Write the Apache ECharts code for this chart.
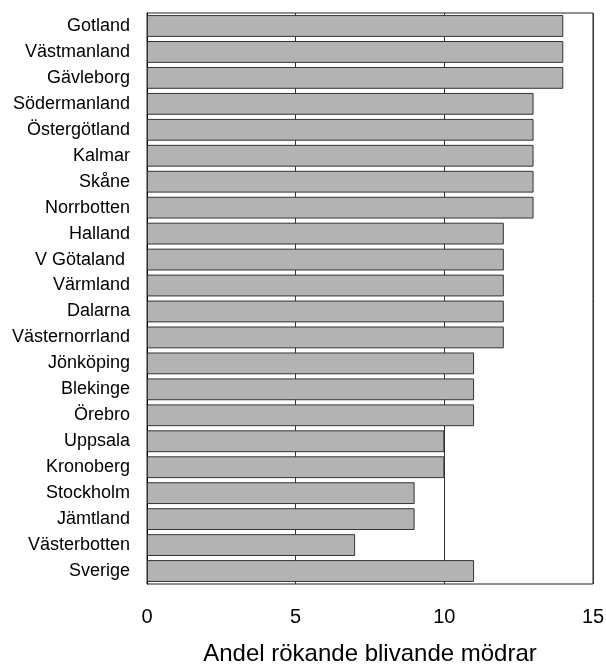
<!DOCTYPE html>
<html><head><meta charset="utf-8">
<script src="https://cdn.jsdelivr.net/npm/echarts@6/dist/echarts.min.js"></script>
<style>html,body{margin:0;padding:0;background:#fff}#c{width:606px;height:664px}</style>
</head><body><div id="c"></div>
<script>
const categories = ["Gotland","Västmanland","Gävleborg","Södermanland","Östergötland","Kalmar","Skåne","Norrbotten","Halland","V Götaland ","Värmland","Dalarna","Västernorrland","Jönköping","Blekinge","Örebro","Uppsala","Kronoberg","Stockholm","Jämtland","Västerbotten","Sverige"];
const values = [14,14,14,13,13,13,13,13,12,12,12,12,12,11,11,11,10,10,9,9,7,11];
const xTicks = [0,5,10,15];
const xTitle = "Andel rökande blivande mödrar";

const chart = echarts.init(document.getElementById('c'), null, {renderer:'canvas'});
chart.setOption({
  animation:false,
  backgroundColor:'#fff',
  grid:{left:147,right:13,top:13,bottom:80,show:true,borderColor:'#222',borderWidth:1,backgroundColor:'transparent',
    containLabel:false,outerBoundsMode:'none'},
  xAxis:{type:'value',min:0,max:15,interval:5,
    name:xTitle,nameLocation:'middle',nameGap:58,
    nameTextStyle:{fontFamily:'Liberation Sans, Arial',fontSize:24,color:'#000'},
    axisLine:{show:false},axisTick:{show:false},
    axisLabel:{fontFamily:'Liberation Sans, Arial',fontSize:20,color:'#000',margin:23,
      formatter:v=>xTicks.includes(v)?String(v):''},
    splitLine:{show:true,lineStyle:{color:'#333',width:1}}
  },
  yAxis:{type:'category',data:categories,inverse:true,
    axisLine:{show:true,lineStyle:{color:'#000',width:1}},axisTick:{show:false},
    axisLabel:{fontFamily:'Liberation Sans, Arial',fontSize:18,color:'#000',margin:17}
  },
  series:[{type:'bar',data:values,barCategoryGap:'16%',
    itemStyle:{color:'#b3b3b3',borderColor:'#333',borderWidth:1}}]
});
</script></body></html>
